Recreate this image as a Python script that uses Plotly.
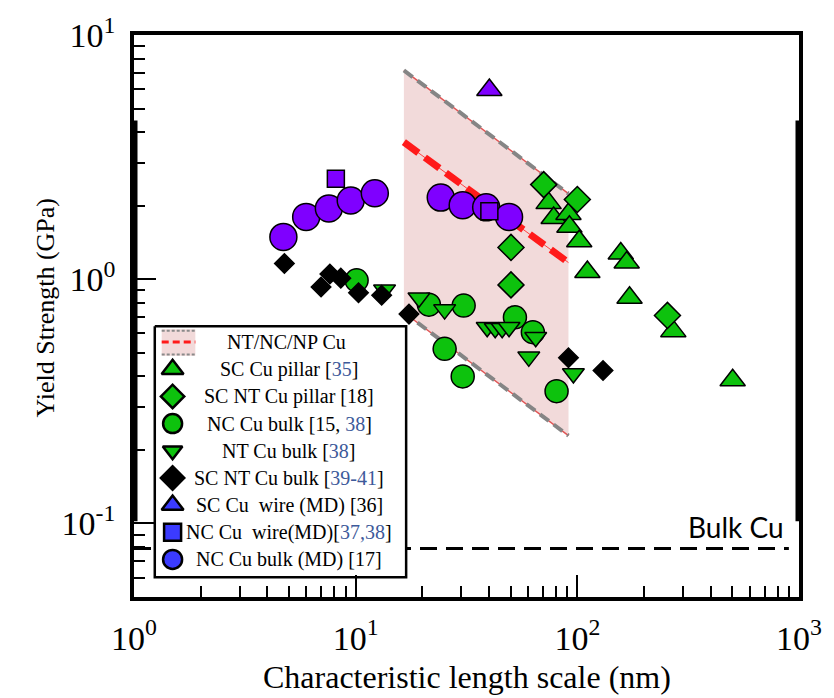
import plotly.graph_objects as go

# ---- data -------------------------------------------------------------
# SC Cu pillar [35]
sc_pillar_x = [74.2, 78.2, 91.2, 92.1, 102, 111, 157, 167, 172, 271, 502]
sc_pillar_y = [2.05, 1.78, 1.85, 1.64, 1.43, 1.07, 1.275, 1.17, 0.84, 0.613, 0.386]

# SC NT Cu pillar [18]
sc_nt_pillar_x = [70.5, 100, 50.2, 50.2, 255]
sc_nt_pillar_y = [2.44, 2.12, 1.35, 0.948, 0.711]

# NC Cu bulk [15, 38]
nc_bulk_x = [10.1, 21.4, 30.7, 25.2, 30.4, 52.3, 63.0, 80.6]
nc_bulk_y = [0.99, 0.787, 0.78, 0.519, 0.40, 0.698, 0.607, 0.348]

# NT Cu bulk [38]
nt_bulk_x = [13.5, 19.3, 25.2, 39.2, 42.6, 45.8, 49.2, 64.9, 60.4, 96]
nt_bulk_y = [0.905, 0.84, 0.751, 0.636, 0.63, 0.63, 0.636, 0.579, 0.481, 0.411]

# SC NT Cu bulk [39-41]
sc_nt_bulk_x = [4.77, 7.65, 8.57, 6.98, 10.3, 13.1, 17.4, 91.2, 130.6]
sc_nt_bulk_y = [1.16, 1.05, 1.01, 0.93, 0.88, 0.86, 0.72, 0.477, 0.423]

# SC Cu wire (MD) [36]
md_wire_sc_x = [40.1]
md_wire_sc_y = [5.95]

# NC Cu wire (MD) [37,38]
md_wire_nc_x = [8.14, 40.1]
md_wire_nc_y = [2.58, 1.90]

# NC Cu bulk (MD) [17]
md_bulk_x = [4.72, 5.98, 7.57, 9.50, 12.2, 24.2, 30.4, 38.8, 49.2]
md_bulk_y = [1.49, 1.80, 1.95, 2.10, 2.25, 2.16, 2.01, 1.97, 1.80]

# NT/NC/NP Cu band: upper bound, trend and lower bound
band_x = [16.5, 91.2]
band_upper = [7.16, 2.24]
band_mid = [3.64, 1.17]
band_lower = [0.731, 0.229]

# bulk copper reference strength
bulk_cu_x = [1, 900]
bulk_cu_y = 0.079

x_tickvals = [1, 10, 100, 1000]
x_ticktext = ["10<sup>0</sup>", "10<sup>1</sup>", "10<sup>2</sup>", "10<sup>3</sup>"]
y_tickvals = [0.1, 1, 10]
y_ticktext = ["10<sup>-1</sup>", "10<sup>0</sup>", "10<sup>1</sup>"]

# ---- styling ----------------------------------------------------------
GREEN = "#0dc20d"
PURPLE = "#7f00ff"
BLUE = "#3b3bff"
BAND_FILL = "#f2dada"
SERIF = "Liberation Serif"
REF = "#3d5a9a"

# plot-area geometry (px) used to place the boxed key
PLOT_L, PLOT_R, PLOT_T, PLOT_B = 134, 806, 26, 597


def fx(px):
    return (px - PLOT_L) / (PLOT_R - PLOT_L)


def fy(py):
    return (PLOT_B - py) / (PLOT_B - PLOT_T)


fig = go.Figure()

# shaded band
fig.add_trace(go.Scatter(
    x=band_x + band_x[::-1], y=band_upper + band_lower[::-1],
    fill="toself", fillcolor=BAND_FILL, mode="lines",
    line=dict(width=0), showlegend=False, hoverinfo="skip"))

# band edges: thin red line under a grey dash
for edge in (band_upper, band_lower):
    fig.add_trace(go.Scatter(x=band_x, y=edge, mode="lines",
                             line=dict(color="#e05555", width=1.5),
                             showlegend=False, hoverinfo="skip"))
    fig.add_trace(go.Scatter(x=band_x, y=edge, mode="lines",
                             line=dict(color="#858585", width=4, dash="11px,6px"),
                             showlegend=False, hoverinfo="skip"))

# band trend line
fig.add_trace(go.Scatter(x=band_x, y=band_mid, mode="lines",
                         line=dict(color="#ff4040", width=1),
                         showlegend=False, hoverinfo="skip"))
fig.add_trace(go.Scatter(x=band_x, y=band_mid, mode="lines",
                         line=dict(color="#ff1a1a", width=7, dash="18px,8px"),
                         showlegend=False, hoverinfo="skip"))

# bulk Cu reference line
fig.add_trace(go.Scatter(x=bulk_cu_x, y=[bulk_cu_y, bulk_cu_y], mode="lines",
                         line=dict(color="black", width=3, dash="17px,9px"),
                         showlegend=False, hoverinfo="skip"))


def pts(x, y, symbol, size, color):
    fig.add_trace(go.Scatter(
        x=x, y=y, mode="markers", showlegend=False,
        marker=dict(symbol=symbol, size=size, color=color,
                    line=dict(color="black", width=1.5))))


pts(sc_pillar_x, sc_pillar_y, "triangle-up", 22, GREEN)
pts(sc_nt_pillar_x, sc_nt_pillar_y, "diamond", 20, GREEN)
pts(nc_bulk_x, nc_bulk_y, "circle", 23, GREEN)
pts(nt_bulk_x, nt_bulk_y, "triangle-down", 19, GREEN)
pts(sc_nt_bulk_x, sc_nt_bulk_y, "diamond", 15, "black")
pts(md_bulk_x, md_bulk_y, "circle", 27, PURPLE)
pts(md_wire_nc_x, md_wire_nc_y, "square", 17, PURPLE)
pts(md_wire_sc_x, md_wire_sc_y, "triangle-up", 22, PURPLE)

# ---- boxed key, drawn on an overlay axis in plot-area fractions -------
key_entries = [
    ("SC Cu pillar [<span style='color:%s'>35</span>]" % REF, "triangle-up", 19, GREEN),
    ("SC NT Cu pillar [18]", "diamond", 18, GREEN),
    ("NC Cu bulk [15, <span style='color:%s'>38</span>]" % REF, "circle", 19, GREEN),
    ("NT Cu bulk [<span style='color:%s'>38</span>]" % REF, "triangle-down", 17, GREEN),
    ("SC NT Cu bulk [<span style='color:%s'>39-41</span>]" % REF, "diamond", 18, "black"),
    ("SC Cu&nbsp; wire (MD) [36]", "triangle-up", 19, BLUE),
    ("NC Cu&nbsp; wire(MD)[<span style='color:%s'>37,38</span>]" % REF, "square", 17, BLUE),
    ("NC Cu bulk (MD) [17]", "circle", 19, BLUE),
]
band_key = "NT/NC/NP Cu"

box_l, box_r, box_t, box_b = 155, 409, 322, 577
row0, row_step = 338, 27.6
sym_x, text_x = 173, 291

ov = dict(xaxis="x2", yaxis="y2", showlegend=False, hoverinfo="skip")
fig.add_trace(go.Scatter(
    x=[fx(box_l), fx(box_r), fx(box_r), fx(box_l), fx(box_l)],
    y=[fy(box_t), fy(box_t), fy(box_b), fy(box_b), fy(box_t)],
    mode="lines", fill="toself", fillcolor="white",
    line=dict(color="black", width=2.5), **ov))

# band swatch
sw_l, sw_r, sw_t, sw_b = 162, 196, 325, 352
fig.add_trace(go.Scatter(
    x=[fx(sw_l), fx(sw_r), fx(sw_r), fx(sw_l), fx(sw_l)],
    y=[fy(sw_t), fy(sw_t), fy(sw_b), fy(sw_b), fy(sw_t)],
    mode="lines", fill="toself", fillcolor=BAND_FILL,
    line=dict(width=0), **ov))
for py in (sw_t + 1.5, sw_b - 1.5):
    fig.add_trace(go.Scatter(x=[fx(sw_l), fx(sw_r)], y=[fy(py), fy(py)],
                             mode="lines",
                             line=dict(color="#8a8a8a", width=2, dash="3px,2px"),
                             **ov))
fig.add_trace(go.Scatter(x=[fx(sw_l), fx(sw_r)], y=[fy(row0), fy(row0)],
                         mode="lines",
                         line=dict(color="#ff1a1a", width=3, dash="7px,4px"),
                         **ov))
fig.add_annotation(text=band_key, xref="x2", yref="y2",
                   x=fx(288), y=fy(row0), showarrow=False,
                   xanchor="center", yanchor="middle",
                   font=dict(family=SERIF, size=20, color="black"))

for i, (label, symbol, size, color) in enumerate(key_entries):
    py = row0 + row_step * (i + 1)
    fig.add_trace(go.Scatter(
        x=[fx(sym_x)], y=[fy(py)], mode="markers",
        marker=dict(symbol=symbol, size=size, color=color,
                    line=dict(color="black", width=2.5)), **ov))
    fig.add_annotation(text=label, xref="x2", yref="y2",
                       x=fx(text_x), y=fy(py), showarrow=False,
                       xanchor="center", yanchor="middle",
                       font=dict(family=SERIF, size=20, color="black"))

# ---- frame accents ------------------------------------------------------
for xp in (0, 1):
    fig.add_shape(type="line", xref="paper", yref="paper",
                  x0=xp, x1=xp, y0=0.135, y1=0.848,
                  line=dict(color="black", width=7))

axis_common = dict(
    type="log", showgrid=False, zeroline=False,
    showline=True, linecolor="black", linewidth=3.5, mirror=True,
    ticks="inside", ticklen=22, tickwidth=2, tickcolor="black",
    tickfont=dict(family=SERIF, size=34, color="black"),
    ticklabelstandoff=8,
)

minor_x = [m * 10 ** e for e in range(0, 3) for m in range(2, 10)]
minor_y = [m * 10 ** e for e in range(-2, 1) for m in range(2, 10)
           if 0.05 <= m * 10 ** e <= 10]

fig.update_xaxes(range=[0, 3], tickmode="array", tickvals=x_tickvals,
                 ticktext=x_ticktext,
                 minor=dict(tickmode="array", tickvals=minor_x, ticks="inside",
                            ticklen=11, tickwidth=1.5, tickcolor="black",
                            showgrid=False),
                 **axis_common)
fig.update_yaxes(range=[-1.30103, 1], tickmode="array", tickvals=y_tickvals,
                 ticktext=y_ticktext,
                 minor=dict(tickmode="array", tickvals=minor_y, ticks="inside",
                            ticklen=11, tickwidth=1.5, tickcolor="black",
                            showgrid=False),
                 **axis_common)

fig.add_annotation(text="Characteristic length scale (nm)", xref="paper",
                   yref="paper", x=0.5, y=-0.142, showarrow=False,
                   xanchor="center", yanchor="middle",
                   font=dict(family=SERIF, size=32, color="black"))
fig.add_annotation(text="Yield Strength (GPa)", xref="paper", yref="paper",
                   x=-0.1324, y=0.515, showarrow=False, textangle=-90,
                   xanchor="center", yanchor="middle",
                   font=dict(family=SERIF, size=26, color="black"))
fig.add_annotation(text="Bulk Cu", xref="paper", yref="paper",
                   x=0.98, y=0.09, showarrow=False,
                   xanchor="right", yanchor="bottom",
                   font=dict(family="Lato", size=28, color="black"))

fig.update_layout(
    width=834, height=698,
    margin=dict(l=PLOT_L, r=834 - PLOT_R, t=PLOT_T, b=698 - PLOT_B),
    paper_bgcolor="white", plot_bgcolor="white",
    showlegend=False,
    xaxis2=dict(overlaying="x", range=[0, 1], visible=False, anchor="y2",
                fixedrange=True),
    yaxis2=dict(overlaying="y", range=[0, 1], visible=False, anchor="x2",
                fixedrange=True),
)

fig.write_html("out.html")
